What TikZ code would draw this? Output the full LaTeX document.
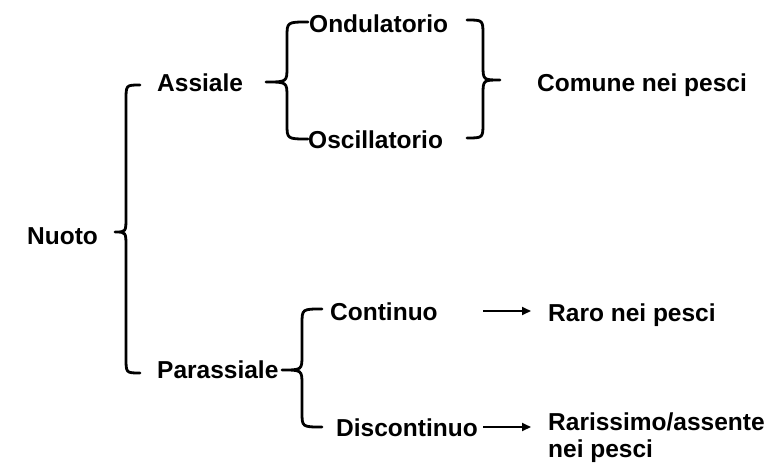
\documentclass[tikz,border=0pt]{standalone}
\usepackage{fontspec}
\setmainfont{Liberation Sans}
\usetikzlibrary{arrows.meta}
\begin{document}
\begin{tikzpicture}[x=1pt,y=-1pt,
  lbl/.style={anchor=base west,inner sep=0pt,font=\fontsize{24.5}{28}\selectfont\bfseries},
  brace/.style={line width=2.8pt,line cap=round,line join=round},
  arr/.style={line width=2pt,-{Triangle[length=9pt,width=8pt]}}]
\useasboundingbox (0,0) rectangle (766,471);
% texts
\node[lbl] (nuoto) at (27,244) {Nuoto};
\node[lbl] (assiale) at (157,91) {Assiale};
\node[lbl] (ond) at (309,32) {Ondulatorio};
\node[lbl] (osc) at (308,148) {Oscillatorio};
\node[lbl] (comune) at (537,91) {Comune nei pesci};
\node[lbl] (parass) at (157,378) {Parassiale};
\node[lbl] (cont) at (330,320) {Continuo};
\node[lbl] (disc) at (336,436) {Discontinuo};
\node[lbl] (raro) at (548,321) {Raro nei pesci};
\node[lbl,align=left,anchor=north west] (rariss) at (548,413) {Rarissimo/assente\\[-1pt]nei pesci};
% braces
\newcommand{\bracepath}[6]{% xend, ytop, ybot, xvert, xtip, ymid
  \draw[brace] (#1,#2) .. controls (#4,#2) .. (#4,#2+15) -- (#4,#6-15)
    .. controls (#4,#6) .. (#5,#6) .. controls (#4,#6) .. (#4,#6+15)
    -- (#4,#3-15) .. controls (#4,#3) .. (#1,#3);}
\bracepath{140}{85}{373}{126}{115}{232}
\bracepath{308}{22}{139}{287}{266}{82}
\bracepath{467}{20}{138}{483}{500}{80}
\bracepath{322}{309}{427}{302}{282}{370}
% arrows
\coordinate (a1s) at (483,311);
\coordinate (a1e) at (531,311);
\coordinate (a2s) at (483,427);
\coordinate (a2e) at (531,427);
\draw[arr] (a1s) -- (a1e);
\draw[arr] (a2s) -- (a2e);
\end{tikzpicture}
\end{document}
